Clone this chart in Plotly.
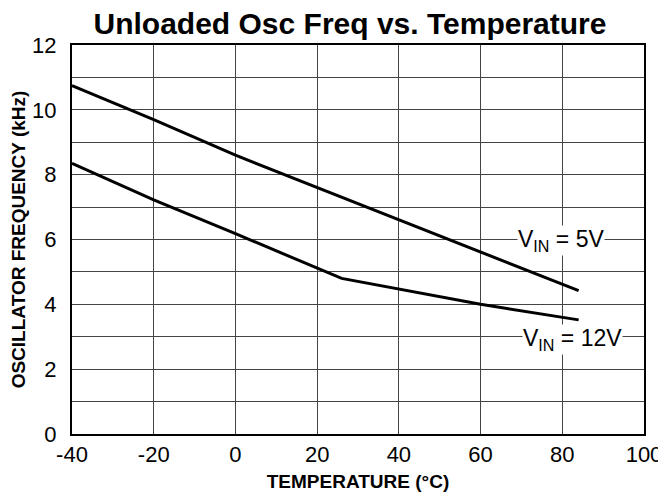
import plotly.graph_objects as go

temp_5v = [-40, -20, 0, 26, 60, 84]
freq_5v = [10.75, 9.7, 8.6, 7.3, 5.6, 4.42]
temp_12v = [-40, -20, 0, 26, 60, 84]
freq_12v = [8.35, 7.22, 6.18, 4.8, 4.0, 3.52]

x_ticks = [-40, -20, 0, 20, 40, 60, 80, 100]
y_ticks = [0, 2, 4, 6, 8, 10, 12]

FONT = "Liberation Sans, Arial, sans-serif"
GRID = "#444"

fig = go.Figure()
fig.add_trace(go.Scatter(x=temp_5v, y=freq_5v, mode="lines",
                         line=dict(color="black", width=3), showlegend=False))
fig.add_trace(go.Scatter(x=temp_12v, y=freq_12v, mode="lines",
                         line=dict(color="black", width=3), showlegend=False))

fig.add_annotation(x=80, y=6, text="V<sub>IN</sub> = 5V", showarrow=False,
                   font=dict(family=FONT, size=23, color="black"),
                   bgcolor="white", borderpad=0, xshift=-1, yshift=-1)
fig.add_annotation(x=82.5, y=3, text="V<sub>IN</sub> = 12V", showarrow=False,
                   font=dict(family=FONT, size=23, color="black"),
                   bgcolor="white", borderpad=0, yshift=-3)

fig.update_layout(
    width=666, height=497,
    margin=dict(l=64, r=30, t=37, b=71),
    paper_bgcolor="white", plot_bgcolor="white",
    title=dict(text="<b>Unloaded Osc Freq vs. Temperature</b>", x=0.5135, xanchor="center",
               y=0.968, yanchor="middle",
               font=dict(family=FONT, size=30, color="black")),
    font=dict(family=FONT, color="black"),
)
fig.update_xaxes(range=[-40, 100], tickvals=x_ticks, ticktext=[str(v) for v in x_ticks],
                 showgrid=True, gridcolor=GRID, gridwidth=1, automargin=False,
                 showline=True, linecolor="black", linewidth=2, mirror=True,
                 zeroline=False, ticks="", tickfont=dict(size=22),
                 title=dict(text="<b>TEMPERATURE (°C)</b>", font=dict(size=19), standoff=8))
fig.update_yaxes(range=[0, 12], tickvals=y_ticks, ticktext=[str(v) for v in y_ticks],
                 showgrid=True, gridcolor=GRID, gridwidth=1, automargin=False,
                 minor=dict(dtick=1, showgrid=True, gridcolor=GRID, gridwidth=1),
                 showline=True, linecolor="black", linewidth=2, mirror=True,
                 zeroline=False, ticks="", tickfont=dict(size=22), ticklabelstandoff=9,
                 title=dict(text="<b>OSCILLATOR FREQUENCY (kHz)</b>", font=dict(size=19), standoff=8))

fig.write_html("out.html")
